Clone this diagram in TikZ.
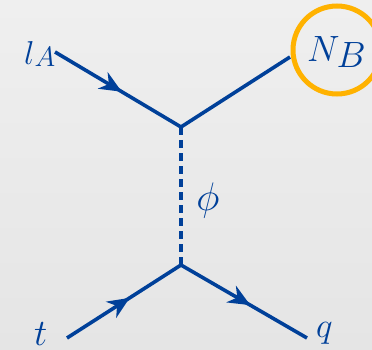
\documentclass[tikz,border=0pt]{standalone}
\usetikzlibrary{arrows.meta,decorations.markings}
\definecolor{fblue}{RGB}{0,64,153}
\definecolor{forange}{RGB}{255,178,0}
\definecolor{bgtop}{RGB}{239,239,239}
\definecolor{bgbot}{RGB}{229,229,229}
\tikzset{
  fline/.style={fblue, line width=3.6pt},
  fermion/.style={fline, postaction={decorate}, decoration={markings,
    mark=at position #1 with {\arrow{Stealth[length=22pt,width=19pt,inset=7pt]}}}},
  scalar/.style={fline, dash pattern=on 8pt off 5pt},
  lbl/.style={fblue, inner sep=0pt},
}
\newcommand{\sym}[2]{\scalebox{#1}{\Huge$#2$}}
\begin{document}
\begin{tikzpicture}[x=1pt,y=-1pt]
\shade[top color=bgtop, bottom color=bgbot] (0,0) rectangle (372,350);
\useasboundingbox (0,0) rectangle (372,350);
\coordinate (a) at (55,52);
\coordinate (v1) at (181,127);
\coordinate (b) at (290,57);
\coordinate (v2) at (181,265);
\coordinate (c) at (67,338);
\coordinate (d) at (307,338);
\node[lbl, anchor=base west] (lA) at (24,65) {\sym{1.33}{l}\raisebox{-2pt}{\sym{1.13}{A}}};
\node[lbl, anchor=base west] (NB) at (307,62) {\sym{1.47}{N}\kern-3pt\raisebox{-6pt}{\sym{1.47}{B}}};
\node[lbl, anchor=base] (phi) at (208,210) {\sym{1.6}{\phi}};
\node[lbl, anchor=base west] (t) at (34,345) {\sym{1.5}{t}};
\node[lbl, anchor=base west] (q) at (316,337) {\sym{1.41}{q}};
\node[draw=forange, line width=5pt, circle, minimum size=88pt, inner sep=0pt] (ring) at (337,50) {};
\draw[fermion=0.53] (a) -- (v1);
\draw[fline] (v1) -- (b);
\draw[scalar] (v1) -- (v2);
\draw[fermion=0.55] (c) -- (v2);
\draw[fermion=0.55] (v2) -- (d);
\end{tikzpicture}
\end{document}
